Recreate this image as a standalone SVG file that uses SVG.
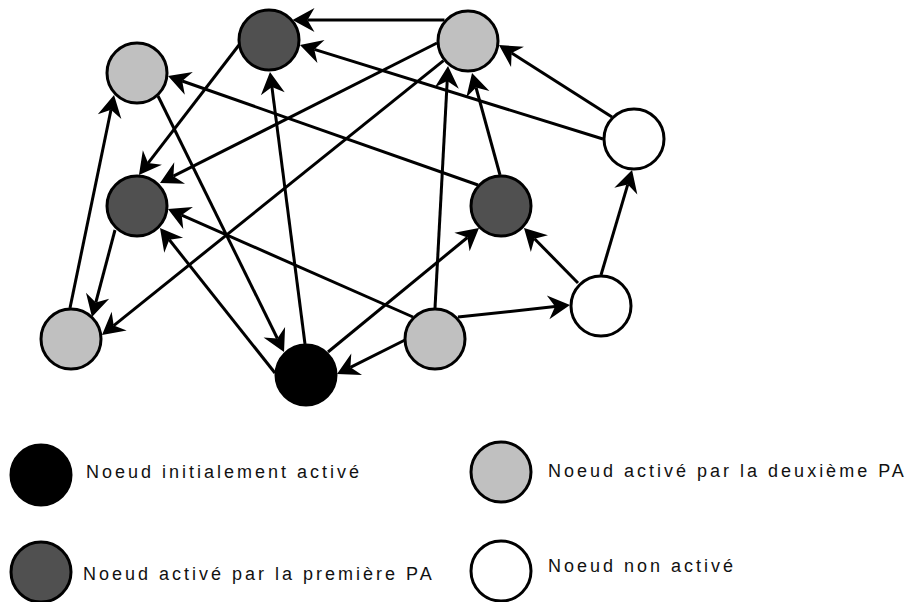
<svg xmlns="http://www.w3.org/2000/svg" width="915" height="602" viewBox="0 0 915 602">
<style>
.n{stroke:#000;stroke-width:3}
.dark{fill:#505050}
.light{fill:#c0c0c0}
.white{fill:#fff}
.black{fill:#000}
.e{stroke:#000;stroke-width:3;fill:none;marker-end:url(#arr)}
.t{font-family:"Liberation Sans",Arial,sans-serif;font-size:18px;letter-spacing:3px;fill:#111}
</style>
<defs>
<marker id="arr" markerUnits="userSpaceOnUse" viewBox="-8 -13 25 26" refX="0" refY="0" markerWidth="25" markerHeight="26" orient="auto">
<path d="M15,0 L-7,-12 L0,0 L-7,12 Z" fill="#000"/>
</marker>
</defs>
<g id="edges">
<line class="e" x1="444.5" y1="20" x2="307.5" y2="20"/>
<line class="e" x1="603" y1="139" x2="314.3" y2="49.4"/>
<line class="e" x1="239" y1="45" x2="148.1" y2="163.1"/>
<line class="e" x1="437" y1="43" x2="173.4" y2="176.2"/>
<line class="e" x1="443.5" y1="60.7" x2="113.7" y2="325.6"/>
<line class="e" x1="478" y1="185" x2="182.2" y2="81"/>
<line class="e" x1="158" y1="96" x2="277.4" y2="338.5"/>
<line class="e" x1="305" y1="344" x2="271.9" y2="86.9"/>
<line class="e" x1="70" y1="308" x2="111" y2="109.7"/>
<line class="e" x1="115" y1="230" x2="95.8" y2="302.5"/>
<line class="e" x1="413" y1="317" x2="181.7" y2="215.1"/>
<line class="e" x1="275" y1="373" x2="169.3" y2="239.8"/>
<line class="e" x1="328" y1="352" x2="467.4" y2="237.5"/>
<line class="e" x1="405" y1="340" x2="350.4" y2="367.3"/>
<line class="e" x1="435" y1="308" x2="447.2" y2="81"/>
<line class="e" x1="500" y1="175" x2="476" y2="87.5"/>
<line class="e" x1="612" y1="117" x2="511.6" y2="53.1"/>
<line class="e" x1="458" y1="317" x2="555.1" y2="306.6"/>
<line class="e" x1="578" y1="283" x2="534.5" y2="238.7"/>
<line class="e" x1="601" y1="275" x2="627.8" y2="184.4"/>
</g>
<g id="nodeA"><circle class="n dark" cx="269" cy="40" r="30"/></g>
<g id="nodeB"><circle class="n light" cx="137" cy="73" r="30"/></g>
<g id="nodeC"><circle class="n light" cx="468" cy="41" r="30"/></g>
<g id="nodeD"><circle class="n white" cx="634" cy="139" r="30"/></g>
<g id="nodeE"><circle class="n dark" cx="137" cy="206" r="30"/></g>
<g id="nodeF"><circle class="n dark" cx="501" cy="206" r="30"/></g>
<g id="nodeG"><circle class="n light" cx="71" cy="339" r="30"/></g>
<g id="nodeH"><circle class="n black" cx="306" cy="375" r="30"/></g>
<g id="nodeI"><circle class="n light" cx="435" cy="339" r="30"/></g>
<g id="nodeJ"><circle class="n white" cx="601" cy="306" r="30"/></g>
<g id="legend-initial"><circle class="n black" cx="41" cy="475" r="30"/><text class="t" x="86" y="478">Noeud initialement activé</text></g>
<g id="legend-first"><circle class="n dark" cx="41" cy="572" r="30"/><text class="t" x="83" y="580">Noeud activé par la première PA</text></g>
<g id="legend-second"><circle class="n light" cx="501" cy="472" r="30"/><text class="t" x="548" y="477">Noeud activé par la deuxième PA</text></g>
<g id="legend-none"><circle class="n white" cx="501" cy="571" r="30"/><text class="t" x="548" y="572">Noeud non activé</text></g>
</svg>
